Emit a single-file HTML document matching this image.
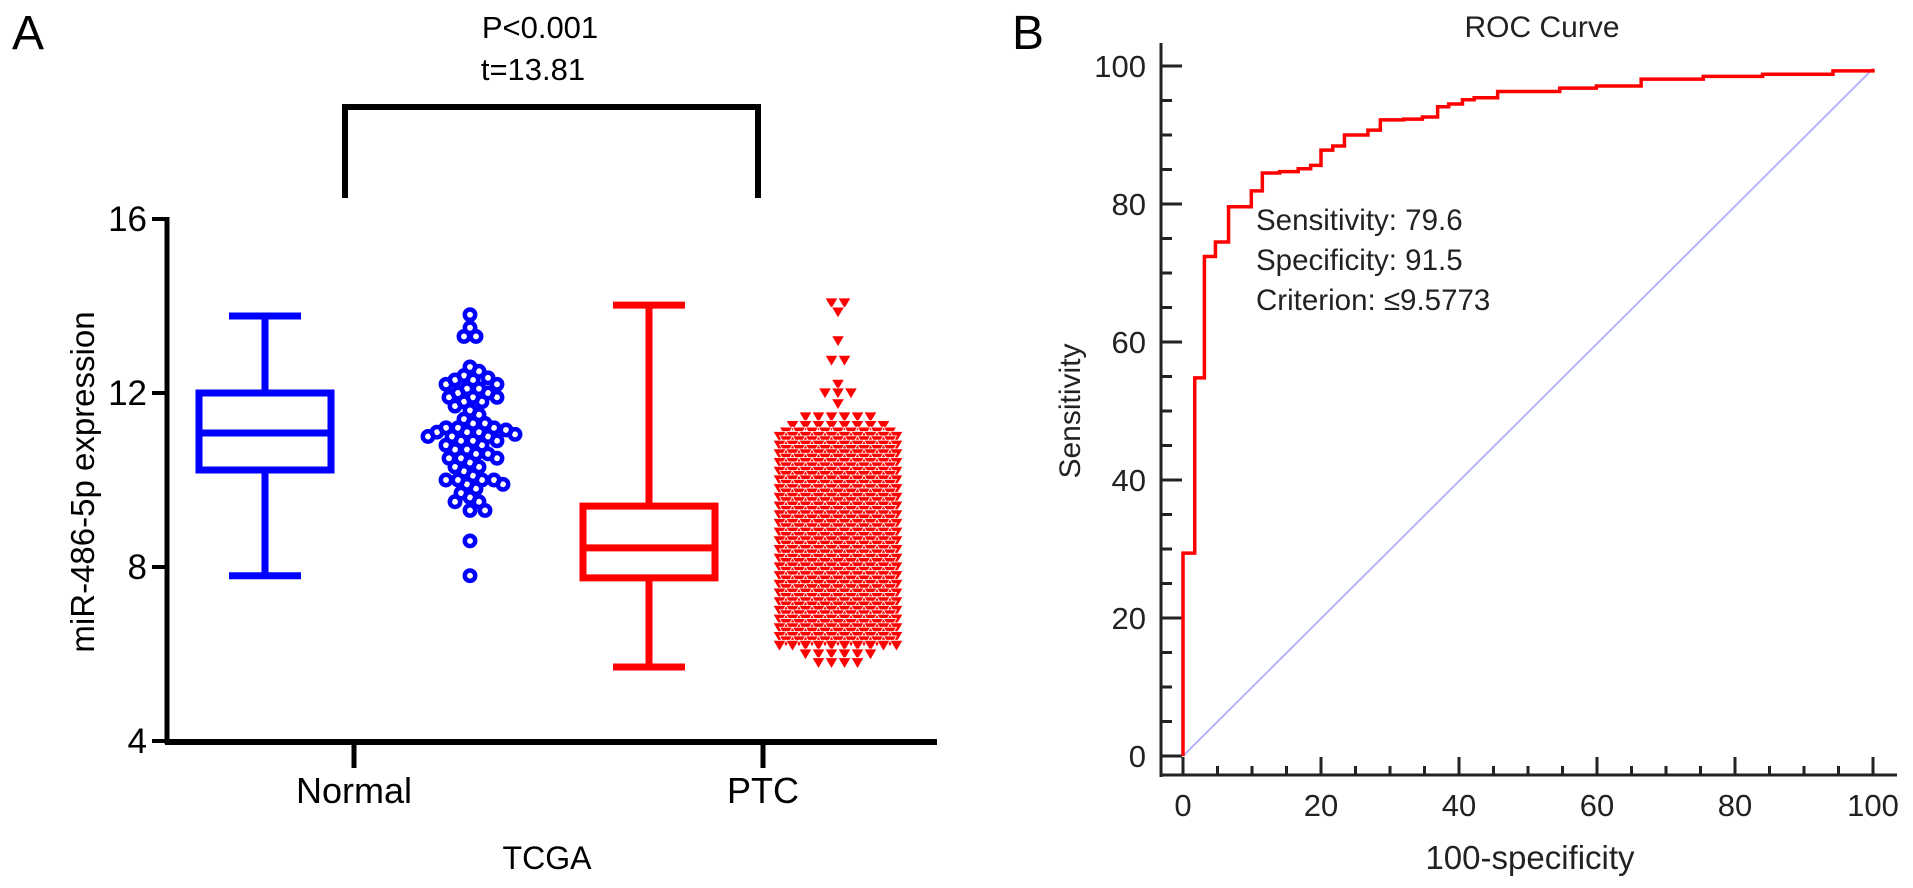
<!DOCTYPE html>
<html><head><meta charset="utf-8"><style>
html,body{margin:0;padding:0;background:#fff;}
svg{display:block;font-family:"Liberation Sans",Arial,sans-serif;}
</style></head><body>
<svg id="fig" width="1913" height="888" viewBox="0 0 1913 888" xmlns="http://www.w3.org/2000/svg">
<text x="12" y="49" font-size="48">A</text>
<text x="1012" y="49" font-size="48">B</text>
<g id="left"></g>
<g id="right"></g>
</svg>
<script>
// ---------- Panel A data ----------
const groups = ["Normal", "PTC"];
const yTicksA = [4, 8, 12, 16];
const boxNormal = [7.8, 10.23, 11.08, 12.0, 13.77];   // min, q1, median, q3, max
const boxPTC = [5.7, 7.75, 8.44, 9.4, 14.02];
const normalValues = [13.8,13.5,13.3,13.3,12.6,12.5,12.4,12.35,12.3,12.3,12.2,12.2,12.1,12.1,12.0,12.0,11.9,11.9,11.9,11.8,11.8,11.7,11.6,11.5,11.4,11.3,11.3,11.2,11.2,11.2,11.15,11.1,11.1,11.1,11.05,11.0,11.0,11.0,10.9,10.9,10.9,10.8,10.8,10.7,10.7,10.6,10.6,10.5,10.5,10.5,10.4,10.3,10.3,10.2,10.1,10.0,10.0,10.0,10.0,9.9,9.9,9.8,9.7,9.6,9.5,9.5,9.3,9.3,8.6,7.8];
const ptcLevels = [14.07,13.86,13.2,12.75,12.2,12.0,11.75,11.45,11.25,11.1,11.0,10.9,10.8,10.7,10.6,10.5,10.4,10.3,10.2,10.1,10.0,9.9,9.8,9.7,9.6,9.5,9.4,9.3,9.2,9.1,9.0,8.9,8.8,8.7,8.6,8.5,8.4,8.3,8.2,8.1,8.0,7.9,7.8,7.7,7.6,7.5,7.4,7.3,7.2,7.1,7.0,6.9,6.8,6.7,6.6,6.5,6.4,6.3,6.2,6.0,5.8];
const ptcCounts = [2,1,1,2,1,3,1,6,8,9,10,9,10,9,10,9,10,9,10,9,10,9,10,9,10,9,10,9,10,9,10,9,10,9,10,9,10,9,10,9,10,9,10,9,10,9,10,9,10,9,10,9,10,9,10,9,10,9,10,6,4];

// ---------- Panel B data ----------
const rocX = [0,0,1.7,3.1,4.7,6.6,9.9,11.5,14,16.7,18.5,20,21.7,23.4,26.8,28.6,32,34.7,36.9,38.5,40.5,42.2,45.6,54.6,59.9,66.4,75.4,84,94.2,100];
const rocY = [0,29.4,54.8,72.4,74.5,79.6,81.9,84.5,84.7,85.1,85.6,87.8,88.4,90.0,90.7,92.2,92.3,92.6,94.1,94.5,95.1,95.4,96.3,96.8,97.1,98.1,98.5,98.8,99.3,99.6];
const rocTicks = [0, 20, 40, 60, 80, 100];

const NS = "http://www.w3.org/2000/svg";
function mk(parent, tag, attrs, text) {
  const e = document.createElementNS(NS, tag);
  for (const k in attrs) e.setAttribute(k, attrs[k]);
  if (text !== undefined) e.textContent = text;
  parent.appendChild(e);
  return e;
}

// ===== Panel A =====
const L = document.getElementById('left');
const yA = v => 741 - (v - 4) * 43.5;
const groupX = [265, 649];
const scatterX = [470, 838];

let e = mk(L, 'line', {x1:167, y1:217, x2:167, y2:744, stroke:'#000', 'stroke-width':5});
 
e = mk(L, 'line', {x1:165, y1:742, x2:937, y2:742, stroke:'#000', 'stroke-width':6});
 
yTicksA.forEach(t => {
  const y = yA(t);
  let tk = mk(L, 'line', {x1:152, y1:y, x2:167, y2:y, stroke:'#000', 'stroke-width':4});
   
  let lb = mk(L, 'text', {x:147, y:y+12, 'font-size':35, 'text-anchor':'end'}, String(t));
   
});
const catTickX = [354, 763];
groups.forEach((g, i) => {
  let tk = mk(L, 'line', {x1:catTickX[i], y1:742, x2:catTickX[i], y2:768, stroke:'#000', 'stroke-width':5});
   
  let lb = mk(L, 'text', {x:catTickX[i], y:803, 'font-size':36, 'text-anchor':'middle'}, g);
   
});
e = mk(L, 'text', {x:547, y:869, 'font-size':32, 'text-anchor':'middle'}, 'TCGA');
 
e = mk(L, 'text', {x:0, y:0, 'font-size':33, 'text-anchor':'middle', transform:'translate(94,482) rotate(-90)'}, 'miR-486-5p expression');
 

// significance bracket
e = mk(L, 'path', {d:'M345,198 L345,107 L758,107 L758,198', fill:'none', stroke:'#000', 'stroke-width':6});
 
e = mk(L, 'text', {x:540, y:38, 'font-size':31, 'text-anchor':'middle'}, 'P<0.001');
 
e = mk(L, 'text', {x:533, y:80, 'font-size':31, 'text-anchor':'middle'}, 't=13.81');
 

function drawBox(stats, cx, color, name) {
  const g = mk(L, 'g', {fill:'none', stroke:color, 'stroke-width':7});
   
  const [mn, q1, md, q3, mx] = stats;
  const hw = 66, cw = 36;
  mk(g, 'rect', {x:cx-hw, y:yA(q3), width:2*hw, height:yA(q1)-yA(q3)});
  mk(g, 'line', {x1:cx-hw, y1:yA(md), x2:cx+hw, y2:yA(md)});
  mk(g, 'line', {x1:cx, y1:yA(q3), x2:cx, y2:yA(mx)});
  mk(g, 'line', {x1:cx, y1:yA(q1), x2:cx, y2:yA(mn)});
  mk(g, 'line', {x1:cx-cw, y1:yA(mx), x2:cx+cw, y2:yA(mx)});
  mk(g, 'line', {x1:cx-cw, y1:yA(mn), x2:cx+cw, y2:yA(mn)});
}
drawBox(boxNormal, groupX[0], '#0000ff', 'box-normal');
drawBox(boxPTC, groupX[1], '#ff0000', 'box-ptc');

// Normal beeswarm (greedy)
const gN = mk(L, 'g', {fill:'none', stroke:'#0000ff', 'stroke-width':4.5});
 
const placed = [];
const D = 9.5;
normalValues.forEach(v => {
  const y = yA(v);
  let best = null;
  for (let k = 0; k < 40 && best === null; k++) {
    const offs = k === 0 ? [0] : [k * 3, -k * 3];
    for (const o of offs) {
      const x = scatterX[0] + o;
      if (placed.every(p => (p[0]-x)*(p[0]-x) + (p[1]-y)*(p[1]-y) >= D*D)) { best = x; break; }
    }
  }
  if (best === null) best = scatterX[0];
  placed.push([best, y]);
  const c = mk(gN, 'circle', {cx:best, cy:y, r:5.2});
   
});

// PTC triangles in rows
const gP = mk(L, 'g', {fill:'#ff0000', stroke:'#fff', 'stroke-width':0.8});
 
ptcLevels.forEach((v, i) => {
  const n = ptcCounts[i];
  const y = yA(v);
  for (let j = 0; j < n; j++) {
    const x = scatterX[1] + (j - (n - 1) / 2) * 13;
    const t = mk(gP, 'path', {d:`M${x-6.5},${y-5} L${x+6.5},${y-5} L${x},${y+6} Z`});
     
  }
});

// ===== Panel B =====
const R = document.getElementById('right');
const xB = v => 1183 + v * 6.9;
const yB = v => 756 - v * 6.9;
e = mk(R, 'text', {x:1542, y:37, 'font-size':30, 'text-anchor':'middle', fill:'#222'}, 'ROC Curve');
 
e = mk(R, 'line', {x1:1161, y1:43, x2:1161, y2:777, stroke:'#222', 'stroke-width':3});
 
e = mk(R, 'line', {x1:1160, y1:775, x2:1897, y2:775, stroke:'#222', 'stroke-width':3});
 
for (let v = 0; v <= 100; v += 5) {
  const major = v % 20 === 0;
  let ty = mk(R, 'line', {x1:1161, y1:yB(v), x2:major?1182:1172, y2:yB(v), stroke:'#222', 'stroke-width':3});
   
  let tx = mk(R, 'line', {x1:xB(v), y1:775, x2:xB(v), y2:major?757:766, stroke:'#222', 'stroke-width':3});
   
}
rocTicks.forEach(t => {
  let a = mk(R, 'text', {x:1146, y:yB(t)+11, 'font-size':31, 'text-anchor':'end', fill:'#222'}, String(t));
   
  let b = mk(R, 'text', {x:xB(t), y:816, 'font-size':31, 'text-anchor':'middle', fill:'#222'}, String(t));
   
});
e = mk(R, 'text', {x:1530, y:869, 'font-size':33, 'text-anchor':'middle', fill:'#222'}, '100-specificity');
 
e = mk(R, 'text', {x:0, y:0, 'font-size':30, 'text-anchor':'middle', fill:'#222', transform:'translate(1080,411) rotate(-90)'}, 'Sensitivity');
 

e = mk(R, 'line', {x1:xB(0), y1:yB(0), x2:xB(100), y2:yB(rocY[rocY.length-1]), stroke:'#b4b4ff', 'stroke-width':2});
 

let d = `M${xB(rocX[0])},${yB(rocY[0])}`;
for (let i = 1; i < rocX.length; i++) {
  d += ` L${xB(rocX[i])},${yB(rocY[i-1])} L${xB(rocX[i])},${yB(rocY[i])}`;
}
e = mk(R, 'path', {d:d, fill:'none', stroke:'#ff0000', 'stroke-width':3.5});
 

const ann = ['Sensitivity: 79.6', 'Specificity: 91.5', 'Criterion: \u22649.5773'];
ann.forEach((s, i) => {
  let t = mk(R, 'text', {x:1256, y:230 + i * 40, 'font-size':29.5, fill:'#222'}, s);
   
});
</script>
</body></html>
